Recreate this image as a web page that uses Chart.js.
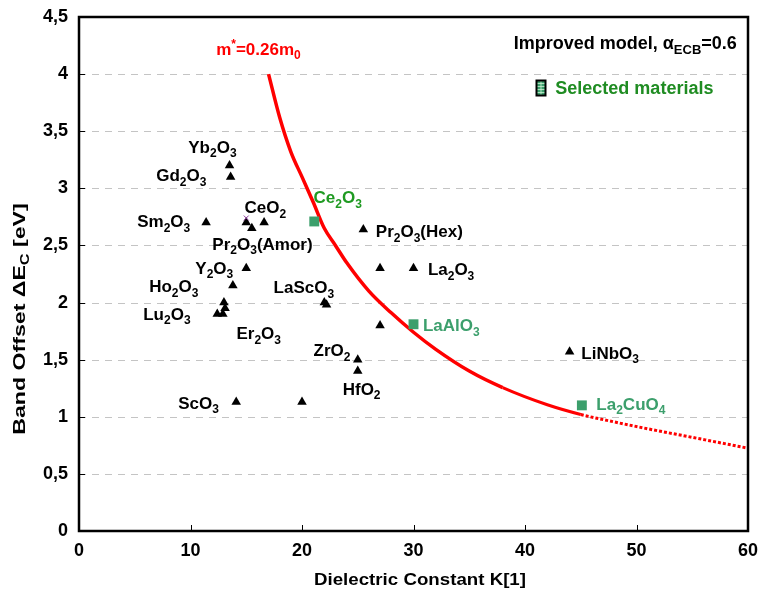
<!DOCTYPE html>
<html>
<head>
<meta charset="utf-8">
<script src="https://cdn.jsdelivr.net/npm/chart.js@4/dist/chart.umd.min.js"></script>
<style>
  html, body { margin: 0; padding: 0; background: #ffffff; }
  #c { display: block; }
</style>
</head>
<body>
<canvas id="c" width="759" height="590"></canvas>
<script>
// Conduction band offset of high-k oxides versus dielectric constant
const oxideK      = [13.5, 13.6, 11.4, 15.0, 15.5, 16.6, 15.0, 13.8, 12.4, 12.9, 13.0, 13.1, 22.0, 22.2, 25.5, 27.0, 30.0, 27.0, 25.0, 25.0, 14.1, 20.0, 44.0];
const oxideOffset = [3.2, 3.1, 2.7, 2.7, 2.65, 2.7, 2.3, 2.15, 1.9, 1.9, 2.0, 1.95, 2.0, 1.98, 2.64, 2.3, 2.3, 1.8, 1.5, 1.4, 1.13, 1.13, 1.57];

// selected materials (green squares)
const selectedK      = [21.1, 30.0, 45.1];
const selectedOffset = [2.71, 1.81, 1.10];

// model curve for m* = 0.26 m0
const modelK      = [17, 18, 19, 20, 21, 22, 23, 24, 26, 28, 30, 32, 35, 38, 42, 45, 48, 51, 55, 60];
const modelOffset = [4.0, 3.62, 3.32, 3.1, 2.88, 2.65, 2.5, 2.35, 2.1, 1.91, 1.74, 1.59, 1.40, 1.255, 1.105, 1.02, 0.955, 0.895, 0.82, 0.725];

// small cross mark next to CeO2
const crossK      = [15.0];
const crossOffset = [2.74];

const xTickValues = [0, 10, 20, 30, 40, 50, 60];
const yTickValues = [0, 0.5, 1, 1.5, 2, 2.5, 3, 3.5, 4, 4.5];

// text labels: "_" subscript, "^" superscript; anchor = left end of baseline
const materialLabels = [
  { t: 'Yb_2O_3',        k: 9.8,   e: 3.31, c: '#000000' },
  { t: 'Gd_2O_3',        k: 6.92,  e: 3.06, c: '#000000' },
  { t: 'Sm_2O_3',        k: 5.22,  e: 2.66, c: '#000000' },
  { t: 'CeO_2',          k: 14.84, e: 2.78, c: '#000000' },
  { t: 'Pr_2O_3(Amor)',  k: 11.96, e: 2.46, c: '#000000' },
  { t: 'Y_2O_3',         k: 10.43, e: 2.25, c: '#000000' },
  { t: 'Ho_2O_3',        k: 6.29,  e: 2.09, c: '#000000' },
  { t: 'Lu_2O_3',        k: 5.76,  e: 1.85, c: '#000000' },
  { t: 'LaScO_3',        k: 17.45, e: 2.08, c: '#000000' },
  { t: 'Er_2O_3',        k: 14.12, e: 1.68, c: '#000000' },
  { t: 'ZrO_2',          k: 21.04, e: 1.53, c: '#000000' },
  { t: 'HfO_2',          k: 23.65, e: 1.19, c: '#000000' },
  { t: 'ScO_3',          k: 8.9,   e: 1.07, c: '#000000' },
  { t: 'Pr_2O_3(Hex)',   k: 26.62, e: 2.57, c: '#000000' },
  { t: 'La_2O_3',        k: 31.29, e: 2.24, c: '#000000' },
  { t: 'LiNbO_3',        k: 45.05, e: 1.51, c: '#000000' },
  { t: 'Ce_2O_3',        k: 21.04, e: 2.87, c: '#1f9a22' },
  { t: 'LaAlO_3',        k: 30.85, e: 1.75, c: '#3c9f6c' },
  { t: 'La_2CuO_4',      k: 46.4,  e: 1.06, c: '#3c9f6c' }
];

const FONT = '"Liberation Sans", Arial, Helvetica, sans-serif';

function parseRich(str) {
  const parts = [];
  let i = 0;
  while (i < str.length) {
    const ch = str[i];
    if (ch === '_' || ch === '^') {
      let t;
      if (str[i + 1] === '{') {
        const j = str.indexOf('}', i);
        t = str.slice(i + 2, j);
        i = j + 1;
      } else {
        t = str[i + 1];
        i += 2;
      }
      parts.push({ t, mode: ch });
    } else {
      let j = i;
      while (j < str.length && str[j] !== '_' && str[j] !== '^') j++;
      parts.push({ t: str.slice(i, j), mode: '' });
      i = j;
    }
  }
  return parts;
}

// draws text with sub/superscripts; stretch widens glyphs along the baseline
function drawRich(ctx, str, x, y, size, color, align, stretch) {
  const sx = stretch || 1;
  const parts = parseRich(str);
  const main = 'bold ' + size + 'px ' + FONT;
  const small = 'bold ' + Math.round(size * 0.72) + 'px ' + FONT;
  let w = 0;
  parts.forEach(p => {
    ctx.font = p.mode ? small : main;
    p.w = ctx.measureText(p.t).width;
    w += p.w;
  });
  w *= sx;
  let cx = align === 'right' ? x - w : align === 'center' ? x - w / 2 : x;
  ctx.save();
  ctx.translate(cx, y);
  ctx.scale(sx, 1);
  ctx.fillStyle = color;
  ctx.textBaseline = 'alphabetic';
  ctx.textAlign = 'left';
  let px = 0;
  parts.forEach(p => {
    ctx.font = p.mode ? small : main;
    const dy = p.mode === '_' ? size * 0.26 : p.mode === '^' ? -size * 0.42 : 0;
    ctx.fillText(p.t, px, dy);
    px += p.w;
  });
  ctx.restore();
}

const framePlugin = {
  id: 'frameAndGrid',
  beforeDatasetsDraw(chart) {
    const { ctx, chartArea: a, scales } = chart;
    ctx.save();
    ctx.strokeStyle = '#c4c4c4';
    ctx.lineWidth = 1;
    ctx.setLineDash([7, 6]);
    yTickValues.forEach(v => {
      if (v <= 0 || v >= 4.5) return;
      const y = Math.round(scales.y.getPixelForValue(v)) + 0.5;
      ctx.beginPath();
      ctx.moveTo(a.left, y);
      ctx.lineTo(a.right, y);
      ctx.stroke();
    });
    ctx.restore();
  },
  afterDatasetsDraw(chart) {
    const { ctx, scales } = chart;
    const xs = scales.x, ys = scales.y;
    ctx.save();
    materialLabels.forEach(l => {
      drawRich(ctx, l.t, xs.getPixelForValue(l.k), ys.getPixelForValue(l.e), 17, l.c, 'left');
    });
    drawRich(ctx, 'm^*=0.26m_0', xs.getPixelForValue(12.3), ys.getPixelForValue(4.17), 17, '#ff0000', 'left');
    drawRich(ctx, 'Improved model, \u03b1_{ECB}=0.6', xs.getPixelForValue(59.0), ys.getPixelForValue(4.22), 18, '#000000', 'right');
    drawRich(ctx, 'Selected materials', xs.getPixelForValue(42.72), ys.getPixelForValue(3.83), 18, '#1f8c22', 'left');

    // legend swatch for selected materials
    const mx = Math.round(xs.getPixelForValue(41.4));
    const my = Math.round(ys.getPixelForValue(3.88));
    const w = 9, h = 15;
    ctx.fillStyle = '#3c9f6c';
    ctx.fillRect(mx - w / 2, my - h / 2, w, h);
    ctx.strokeStyle = 'rgba(200,240,210,0.8)';
    ctx.lineWidth = 1;
    for (let i = 1; i < 5; i++) {
      ctx.beginPath();
      ctx.moveTo(mx - w / 2, my - h / 2 + i * h / 5);
      ctx.lineTo(mx + w / 2, my - h / 2 + i * h / 5);
      ctx.stroke();
    }
    ctx.beginPath();
    ctx.moveTo(mx, my - h / 2);
    ctx.lineTo(mx, my + h / 2);
    ctx.stroke();
    ctx.strokeStyle = '#000000';
    ctx.lineWidth = 2;
    ctx.strokeRect(mx - w / 2, my - h / 2, w, h);
    ctx.restore();
  },
  afterDraw(chart) {
    const { ctx, chartArea: a, scales } = chart;
    ctx.save();
    ctx.strokeStyle = '#000000';
    ctx.lineWidth = 1;
    // inward tick marks
    yTickValues.forEach(v => {
      const y = Math.round(scales.y.getPixelForValue(v)) + 0.5;
      ctx.beginPath();
      ctx.moveTo(a.left, y);
      ctx.lineTo(a.left + 6, y);
      ctx.stroke();
    });
    xTickValues.forEach(v => {
      const x = Math.round(scales.x.getPixelForValue(v)) + 0.5;
      ctx.beginPath();
      ctx.moveTo(x, a.bottom);
      ctx.lineTo(x, a.bottom - 6);
      ctx.stroke();
    });
    // plot frame
    ctx.lineWidth = 2.5;
    ctx.strokeRect(a.left, a.top, a.right - a.left, a.bottom - a.top);

    // axis titles
    drawRich(ctx, 'Dielectric Constant K[1]', 420, 585, 17, '#000000', 'center', 1.1);
    ctx.translate(25, 319);
    ctx.rotate(-Math.PI / 2);
    drawRich(ctx, 'Band Offset \u0394E_C [eV]', 0, 0, 17, '#000000', 'center', 1.36);
    ctx.restore();
  }
};

const toPoints = (xs, ys) => xs.map((x, i) => ({ x: x, y: ys[i] }));

new Chart(document.getElementById('c'), {
  type: 'scatter',
  data: {
    datasets: [
      {
        type: 'line',
        label: 'm* = 0.26 m0',
        data: toPoints(modelK, modelOffset),
        borderColor: '#ff0000',
        borderWidth: 3.5,
        pointRadius: 0,
        fill: false,
        cubicInterpolationMode: 'monotone',
        segment: {
          borderDash: c => (c.p0.parsed.x >= 45 ? [3, 2] : undefined),
          borderWidth: c => (c.p0.parsed.x >= 38 ? 3 : 3.5)
        },
        order: 3
      },
      {
        label: 'Oxides',
        data: toPoints(oxideK, oxideOffset),
        pointStyle: 'triangle',
        pointRadius: 5.5,
        backgroundColor: '#000000',
        borderColor: '#000000',
        borderWidth: 0,
        order: 1
      },
      {
        label: 'Selected materials',
        data: toPoints(selectedK, selectedOffset),
        pointStyle: 'rect',
        pointRadius: 7,
        backgroundColor: '#3c9f6c',
        borderColor: '#3c9f6c',
        borderWidth: 0,
        order: 2
      },
      {
        label: 'mark',
        data: toPoints(crossK, crossOffset),
        pointStyle: 'crossRot',
        pointRadius: 3.5,
        borderColor: '#8b3a9a',
        borderWidth: 1,
        order: 0
      }
    ]
  },
  options: {
    responsive: false,
    devicePixelRatio: 1,
    animation: false,
    layout: { padding: { top: 17, right: 11, left: 0, bottom: 0 } },
    plugins: {
      legend: { display: false },
      tooltip: { enabled: false }
    },
    scales: {
      x: {
        type: 'linear',
        min: 0,
        max: 60,
        afterBuildTicks: s => { s.ticks = xTickValues.map(v => ({ value: v })); },
        ticks: {
          color: '#000000',
          font: { family: FONT, size: 18, weight: 'bold' },
          padding: 9,
          maxRotation: 0
        },
        grid: { display: false, drawTicks: false },
        border: { display: false },
        afterFit: s => { s.height = 59; s.paddingLeft = 0; s.paddingRight = 0; }
      },
      y: {
        type: 'linear',
        min: 0,
        max: 4.5,
        afterBuildTicks: s => { s.ticks = yTickValues.map(v => ({ value: v })); },
        ticks: {
          color: '#000000',
          font: { family: FONT, size: 18, weight: 'bold' },
          padding: 11,
          callback: v => String(v).replace('.', ',')
        },
        grid: { display: false, drawTicks: false },
        border: { display: false },
        afterFit: s => { s.width = 79; s.paddingTop = 0; s.paddingBottom = 0; }
      }
    }
  },
  plugins: [framePlugin]
});
</script>
</body>
</html>
